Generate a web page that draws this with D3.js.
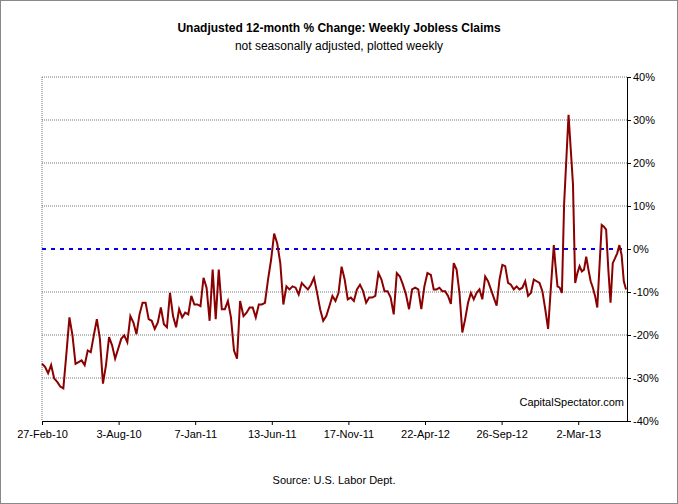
<!DOCTYPE html>
<html><head><meta charset="utf-8">
<script src="https://cdn.jsdelivr.net/npm/d3@7"></script>
<style>body{margin:0;background:#fff}text{font-family:Arial,"Liberation Sans",sans-serif}</style>
</head><body><svg id="c" width="678" height="504"></svg>
<script>
const tickLabels=["27-Feb-10","3-Aug-10","7-Jan-11","13-Jun-11","17-Nov-11","22-Apr-12","26-Sep-12","2-Mar-13"];
const yTicks=[40,30,20,10,0,-10,-20,-30,-40];
const seg1=[-26.7,-27.4,-28.9,-27.0,-30.1,-30.9,-32.0,-32.4,-24.4,-15.9,-20.1,-26.7,-26.3,-25.9,-27.0,-23.6,-24.0,-20.1,-16.3,-20.9,-31.3,-27.0,-20.5,-22.4,-25.5,-23.2,-20.9,-20.1,-21.7,-15.6,-17.1,-19.8,-15.2,-12.5,-12.5,-16.3,-16.7,-18.6,-17.1,-13.6,-17.5,-18.2,-10.2,-15.6,-18.2,-14.0,-15.9,-14.8,-15.2,-10.9,-12.9,-12.9,-13.3,-6.7,-9.0,-16.7,-4.8,-16.3,-4.8,-14.0,-14.0,-12.1,-15.9,-23.6,-25.5,-12.1];
const seg2=[-15.6,-14.8,-13.6,-13.6,-15.9,-12.9,-12.9,-12.5,-7.1,-2.5,3.6,1.3,-3.3,-12.9,-8.7,-9.4,-8.7,-9.0,-10.6,-7.9,-8.7,-9.4,-8.3,-6.7,-10.2,-14.0,-16.7,-15.6,-13.3,-10.9,-12.1,-10.2,-4.1,-7.1,-11.7,-11.3,-12.1,-9.4,-8.3,-9.8,-12.5,-11.3,-11.3,-10.9,-5.6,-7.1,-9.8,-9.8,-11.3,-15.2,-5.6,-6.4,-8.3,-10.6,-14.0,-9.4,-9.0,-9.4,-14.0,-8.7,-5.6];
const seg3=[-6.0,-9.4,-9.4,-9.0,-9.8,-9.8,-10.9,-12.8,-3.3,-4.8,-10.2,-19.4,-16.3,-12.5,-10.2,-11.7,-10.2,-9.4,-11.7,-6.4,-7.5,-9.4,-11.3,-13.2,-7.1,-3.7,-4.0,-7.9,-8.3,-9.4,-8.7,-9.4,-9.0,-7.5,-10.9,-10.2,-7.1,-7.5,-7.9,-9.8,-14.0,-18.6,-8.7,0.9];
const seg4=[-3.3,-8.7,-9.0,-10.2,10.5,20.8,31.2,23.2,15.1,-7.9,-5.6,-4.0,-5.2,-4.8,-1.8,-4.8,-7.5,-9.0,-10.9,-13.6,-4.0,5.6,5.2,4.5,-4.8,-12.5,-3.3,-2.2,-1.0,0.9,-1.4,-7.5,-9.4];
// day offsets (from 27-Feb-10) spanned by each segment
const segDays=[[0,406],[413,790],[797,1049],[1052,1197]];
const parse=d3.timeParse("%d-%b-%y");
const t0=parse(tickLabels[0]);
const day=864e5;
const tEnd=new Date(+t0+1199*day);
const data=[];
[seg1,seg2,seg3,seg4].forEach((s,k)=>{const [a,b]=segDays[k];s.forEach((v,i)=>data.push({d:new Date(+t0+(a+i*(b-a)/(s.length-1))*day),v}));});
const svg=d3.select("#c");
svg.append("rect").attr("x",0.5).attr("y",0.5).attr("width",677).attr("height",503).attr("fill","#fff").attr("stroke","#888");
const L=42,R=627,T=77,B=421;
const x=d3.scaleTime().domain([t0,tEnd]).range([L,R]);
const y=d3.scaleLinear().domain([-40,40]).range([B,T]);
svg.append("g").selectAll("line").data(yTicks.filter(v=>v!==0&&v!==-40)).join("line")
 .attr("x1",L).attr("x2",R).attr("y1",d=>y(d)).attr("y2",d=>y(d))
 .attr("stroke","#777").attr("stroke-dasharray","1,1");
svg.append("line").attr("x1",L).attr("x2",L).attr("y1",T).attr("y2",B).attr("stroke","#777").attr("stroke-dasharray","1,1");
svg.append("line").attr("x1",L).attr("x2",R).attr("y1",y(0)).attr("y2",y(0)).attr("stroke","#0000ee").attr("stroke-width",2.2).attr("stroke-dasharray","4,5");
const ya=d3.axisRight(y).tickValues(yTicks).tickFormat(d=>d+"%").tickSize(4).tickSizeOuter(0);
const yg=svg.append("g").attr("transform",`translate(${R},0)`).call(ya);
yg.selectAll("text").attr("font-size",11).attr("fill","#000").attr("dx",-1);
yg.selectAll("path,line").attr("stroke","#000");
const xa=d3.axisBottom(x).tickValues(tickLabels.map(parse)).tickFormat(d3.timeFormat("%-d-%b-%y")).tickSize(4).tickSizeOuter(0);
const xg=svg.append("g").attr("transform",`translate(0,${B})`).call(xa);
xg.selectAll("text").attr("font-size",11).attr("fill","#000").attr("dy","0.9em");
xg.selectAll("path,line").attr("stroke","#000");
svg.append("path").datum(data).attr("fill","none").attr("stroke","#8b0000").attr("stroke-width",2)
 .attr("d",d3.line().x(d=>x(d.d)).y(d=>y(d.v)));
svg.append("text").attr("x",339).attr("y",32).attr("text-anchor","middle").attr("font-size",12).attr("font-weight","bold").text("Unadjusted 12-month %  Change: Weekly Jobless Claims");
svg.append("text").attr("x",339).attr("y",50).attr("text-anchor","middle").attr("font-size",12).text("not seasonally adjusted, plotted weekly");
svg.append("text").attr("x",624).attr("y",406).attr("text-anchor","end").attr("font-size",11).text("CapitalSpectator.com");
svg.append("text").attr("x",334).attr("y",484).attr("text-anchor","middle").attr("font-size",11).text("Source: U.S. Labor Dept.");
</script></body></html>
